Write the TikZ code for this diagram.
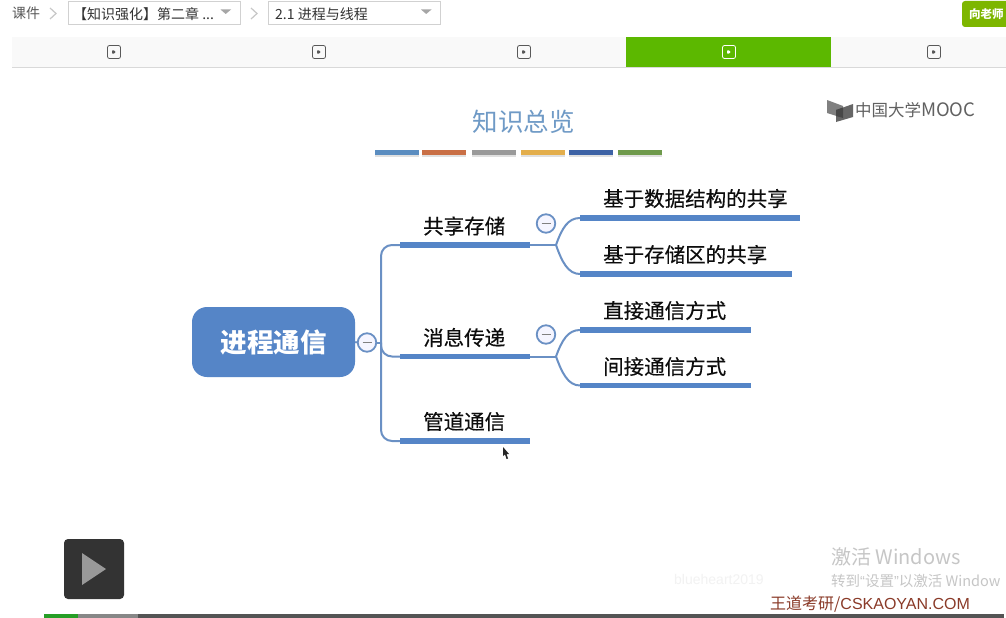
\documentclass[tikz,border=0pt]{standalone}
\usepackage{fontspec}
\setmainfont{Noto Sans CJK SC}
\newfontfamily\arialf{Liberation Sans}
\newfontfamily\heavyf[FakeBold=0.35]{Noto Sans CJK SC}
\definecolor{mapblue}{HTML}{5585C7}
\definecolor{linkblue}{HTML}{6A90C4}
\definecolor{tabgreen}{HTML}{5CB800}
\definecolor{btngreen}{HTML}{7DB600}
\definecolor{titleblue}{HTML}{6F9AC6}
\definecolor{brick}{HTML}{8A3A28}
\definecolor{wm}{HTML}{C6C6C6}
\tikzset{
  barnode/.style={fill=mapblue,draw=none,inner sep=0pt,minimum height=5.5pt,anchor=west,rectangle},
  maptext/.style={anchor=west,inner sep=0pt,font=\heavyf\fontsize{20.5}{20.5}\selectfont,text=black!95},
  conn/.style={draw=linkblue,line width=2pt,rounded corners=11pt},
  curve/.style={draw=linkblue,line width=2pt},
  collapse/.style={circle,draw=linkblue,line width=1.8pt,fill=blue!4,minimum size=18.5pt,inner sep=0pt,
    path picture={\draw[gray,line width=1.5pt] ([xshift=-4.5pt]path picture bounding box.center)--([xshift=4.5pt]path picture bounding box.center);}},
  colorbar/.style={inner sep=0pt,minimum height=5pt,minimum width=44pt,anchor=west,rectangle,draw=none},
  toptext/.style={anchor=west,inner sep=0pt,font=\fontsize{14}{14}\selectfont,text=black!65},
  topbox/.style={draw=black!18,line width=.7pt,fill=white,minimum height=23pt,inner sep=0pt,anchor=west,rectangle},
  chev/.style={draw=black!22,line width=1.2pt},
  droptri/.style={fill=black!35,draw=none},
  tabicon/.style={rectangle,rounded corners=2pt,draw=#1,line width=.8pt,minimum size=13pt,inner sep=0pt,
    path picture={\fill[#1] ([shift={(-2pt,-2.5pt)}]path picture bounding box.center)--([shift={(-2pt,2.5pt)}]path picture bounding box.center)--([shift={(2.5pt,0pt)}]path picture bounding box.center)--cycle;}},
}
\begin{document}
\begin{tikzpicture}[x=1pt,y=-1pt]
\useasboundingbox (0,0) rectangle (1006,618);
\clip (0,0) rectangle (1006,618);
\fill[white] (0,0) rectangle (1006,618);
% top bar
\node[toptext] (crumb) at (12,13.5) {课件};
\draw[chev] (50,8)--(56,13.5)--(50,19);
\node[topbox,minimum width=172pt] (boxa) at (68,12.5) {};
\node[toptext,text=black!80] (boxatext) at (73,14) {【知识强化】第二章 ...};
\fill[droptri] (220.5,9.5)--(231,9.5)--(225.7,14)--cycle;
\draw[chev] (251,8)--(257,13.5)--(251,19);
\node[topbox,minimum width=172pt] (boxb) at (268,12.5) {};
\node[toptext,text=black!80] (boxbtext) at (275,14) {2.1 进程与线程};
\fill[droptri] (421,9.5)--(431.5,9.5)--(426.2,14)--cycle;
\fill[btngreen,rounded corners=3pt] (962,1) rectangle (1020,27);
\node[anchor=west,inner sep=0pt,text=white,font=\fontsize{11.5}{11.5}\bfseries\selectfont] (askbtn) at (969,14) {向老师};
% tab bar
\fill[black!2.5] (12,37) rectangle (1006,67);
\draw[black!15,line width=.8pt] (12,67.5)--(1006,67.5);
\fill[tabgreen] (626,37) rectangle (831,67);
\foreach \n/\x in {a/114,b/319,c/524,e/934}{\node[tabicon=black!65] (tab\n) at (\x,52) {};}
\node[tabicon=white] (tabd) at (729,52) {};
% title
\node[inner sep=0pt,text=titleblue,font=\fontsize{25.5}{25.5}\selectfont] (title) at (523.5,121.5) {知识总览};
\foreach \n/\x/\c in {1/375/5B8DC0,2/422/C96F45,3/471.5/9A9A9A,4/520.5/E3AE4C,5/569/3D62A5,6/618/6F9A4C}{
  \fill[black!12] (\x,155) rectangle ++(44,2);
  \definecolor{cb}{HTML}{\c}
  \node[colorbar,fill=cb] (cbar\n) at (\x,152.5) {};
}
% logo
\fill[black!50] (827,100)--(843,106)--(843,118)--(827,113)--cycle;
\fill[black!60] (836,110)--(853,104)--(853,117)--(836,122)--cycle;
\fill[black!72] (836,110)--(843,107.5)--(843,118)--(836,116)--cycle;
\node[anchor=west,inner sep=0pt,text=black!62,font=\fontsize{16.5}{16.5}\selectfont] (logotext) at (855,110.5) {中国大学\fontsize{18.5}{18.5}\selectfont MOOC};
% map
\node[rectangle,rounded corners=15pt,fill=mapblue,minimum width=163pt,minimum height=70pt,inner sep=0pt,text=white,font=\fontsize{26.5}{26.5}\bfseries\selectfont] (root) at (273.5,342) {\raisebox{-2pt}{进程通信}};
\node[collapse] (cr) at (367,342.5) {};
\coordinate (bus) at (381,342.5);
\node[barnode,minimum width=130pt] (b1) at (400,245) {};
\node[barnode,minimum width=130pt] (b2) at (400,356.5) {};
\node[barnode,minimum width=130pt] (b3) at (400,441) {};
\node[maptext] (t1) at (423,226) {共享存储};
\node[maptext] (t2) at (423,337.5) {消息传递};
\node[maptext] (t3) at (423,421.5) {管道通信};
\node[collapse] (c1) at (546,223.5) {};
\node[collapse] (c2) at (546,334.5) {};
\node[barnode,minimum width=220pt] (s1) at (580,218) {};
\node[barnode,minimum width=212pt] (s2) at (580,274) {};
\node[barnode,minimum width=171pt] (s3) at (580,330) {};
\node[barnode,minimum width=171pt] (s4) at (580,385.5) {};
\node[maptext] (st1) at (603,198.5) {基于数据结构的共享};
\node[maptext] (st2) at (603,254.5) {基于存储区的共享};
\node[maptext] (st3) at (603,310.5) {直接通信方式};
\node[maptext] (st4) at (603,366.5) {间接通信方式};
\draw[curve] (root.east)--(cr.west);
\draw[curve] (cr.east)--(bus);
\draw[conn] (b1.west) -| (bus) |- (b3.west);
\draw[conn] (bus) |- (b2.west);
\coordinate (j1) at (556,245);
\coordinate (j2) at (556,356.5);
\draw[curve] (b1.east)--(j1);
\draw[curve] (b2.east)--(j2);
\draw[curve] (j1) .. controls (562,228) and (568,218) .. (s1.west);
\draw[curve] (j1) .. controls (562,262) and (568,274) .. (s2.west);
\draw[curve] (j2) .. controls (562,340) and (568,330) .. (s3.west);
\draw[curve] (j2) .. controls (562,373) and (568,385.5) .. (s4.west);
% cursor
\fill[black!85] (503,447)--(503,456)--(505,454.5)--(506.5,459)--(508,458.5)--(506.5,454)--(509,454)--cycle;
% play button
\node[rectangle,rounded corners=4pt,fill=black!80,minimum size=60pt,inner sep=0pt] (play) at (94,569) {};
\fill[black!40] (82,553)--(106,569)--(82,585)--cycle;
% watermark
\node[anchor=west,inner sep=0pt,text=black!5,font=\arialf\fontsize{14}{14}\selectfont] (wm0) at (674,579) {blueheart2019};
\node[anchor=west,inner sep=0pt,text=wm,font=\fontsize{20}{20}\selectfont] (wm1) at (831,557) {激活 Windows};
\node[anchor=west,inner sep=0pt,text=wm,font=\fontsize{14.5}{14.5}\selectfont] (wm2) at (831,581) {转到{\arialf“}设置{\arialf”}以激活 Window};
\node[anchor=west,inner sep=0pt,text=brick,font=\fontsize{16}{16}\selectfont] (brand) at (770,604) {王道考研/{\arialf CSKAOYAN.COM}};
% progress bar
\fill[black!67] (138,614) rectangle (1004,618);
\fill[black!47] (78,614) rectangle (138,618);
\fill[green!55!black!85] (44,614) rectangle (78,618);
\end{tikzpicture}
\end{document}
